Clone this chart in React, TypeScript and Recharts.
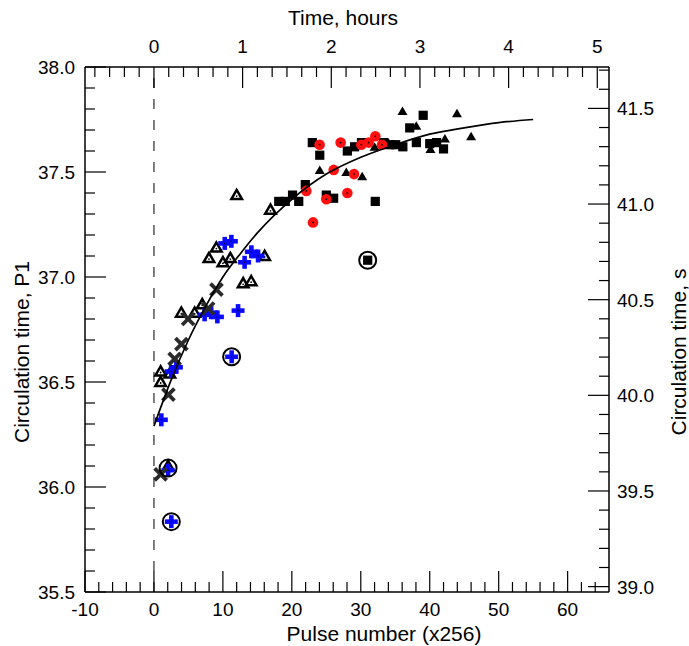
import React from "react"
import { ScatterChart, Scatter, XAxis, YAxis, ReferenceLine } from "recharts"

const FONT = "'Liberation Sans', Arial, Helvetica, sans-serif"

// axis conversions
const PULSES_PER_HOUR = 12.86
const SEC_PER_P1 = 1.0978

const PULSE_LABELS = [-10, 0, 10, 20, 30, 40, 50, 60]
const HOUR_LABELS = [0, 1, 2, 3, 4, 5]
const P1_LABELS = [35.5, 36.0, 36.5, 37.0, 37.5, 38.0]
const SEC_LABELS = [39.0, 39.5, 40.0, 40.5, 41.0, 41.5]

// open triangles
const openTriPulse = [0.97, 2.3, 0.97, 2.05, 3.97, 5.9, 7.0, 7.98, 9.05, 10.0, 11.08, 12.0, 12.94, 14.1, 16.05, 16.9]
const openTriP1 = [36.55, 36.54, 36.5, 36.1, 36.83, 36.83, 36.87, 37.09, 37.14, 37.07, 37.09, 37.39, 36.97, 36.98, 37.1, 37.32]

// blue crosses
const plusPulse = [1.07, 2.05, 2.52, 2.5, 3.25, 7.35, 8.3, 9.2, 10.27, 11.23, 12.2, 11.27, 13.15, 14.13, 15.1]
const plusP1 = [36.32, 36.08, 35.835, 36.55, 36.57, 36.82, 36.83, 36.81, 37.16, 37.17, 36.84, 36.62, 37.07, 37.12, 37.1]

// dark x marks
const xPulse = [0.97, 2.1, 3.0, 3.98, 4.95, 7.85, 9.07]
const xP1 = [36.06, 36.44, 36.61, 36.68, 36.8, 36.85, 36.94]

// red dots
const redPulse = [22.1, 23.07, 24.03, 25.0, 26.07, 27.08, 28.05, 29.02, 30.08, 31.14, 32.11, 33.07]
const redP1 = [37.41, 37.26, 37.63, 37.37, 37.51, 37.64, 37.4, 37.49, 37.63, 37.64, 37.67, 37.63]

// filled squares
const sqPulse = [18.1, 19.05, 20.1, 21.0, 21.95, 22.97, 24.05, 25.0, 26.06, 28.05, 29.1, 30.1, 31.0, 32.1, 33.3, 34.2, 35.07, 36.1, 37.1, 38.06, 39.05, 40.0, 41.0, 42.0]
const sqP1 = [37.36, 37.36, 37.39, 37.36, 37.44, 37.64, 37.58, 37.39, 37.375, 37.6, 37.62, 37.64, 37.08, 37.36, 37.64, 37.63, 37.63, 37.62, 37.71, 37.64, 37.77, 37.635, 37.64, 37.61]

// filled triangles
const triPulse = [24.05, 27.9, 30.2, 32.0, 34.0, 36.05, 38.05, 40.1, 42.2, 43.95, 46.0]
const triP1 = [37.51, 37.5, 37.48, 37.62, 37.64, 37.79, 37.72, 37.61, 37.66, 37.78, 37.67]

// circled outliers
const ringPulse = [2.05, 2.52, 11.27, 31.0]
const ringP1 = [36.09, 35.835, 36.62, 37.08]

// fitted curve, read at a few pulse numbers
const fitPulse = [0, 2.5, 5, 7.5, 10, 12.5, 15, 20, 25, 30, 35, 40, 45, 50, 55]
const fitP1 = [36.29, 36.51, 36.7, 36.86, 37.0, 37.11, 37.21, 37.37, 37.49, 37.57, 37.63, 37.68, 37.71, 37.735, 37.75]

const zip = (xs: number[], ys: number[]) => xs.map((x, i) => ({ x, y: ys[i] }))

// same fit expressed on the secondary (hours / seconds) axes, kept invisible so those axes get drawn
const fitOnSecondary = fitPulse.map((p, i) => ({ x: p / PULSES_PER_HOUR, y: fitP1[i] * SEC_PER_P1 }))

const steps = (from: number, to: number, step: number) => {
  const out: number[] = []
  for (let k = 0; from + k * step <= to + 1e-9; k++) out.push(+(from + k * step).toFixed(4))
  return out
}

const pulseTicks = steps(-10, 64, 2)
const hourTicks = steps(-4, 30, 1).map((k) => k / 6)
const p1Ticks = steps(35.5, 38.0, 0.1)
const secTicks = steps(39.0, 41.7, 0.1)

const near = (arr: number[], v: number) => arr.some((m) => Math.abs(m - v) < 1e-6)

const MAJOR = 21
const MINOR = 10
const TICK_FS = 19
const TITLE_FS = 21

function BottomTick({ x, y, payload }: any) {
  const major = near(PULSE_LABELS, payload.value)
  return (
    <g>
      <line x1={x} x2={x} y1={y} y2={y - (major ? MAJOR : MINOR)} stroke="#000" strokeWidth={1.2} />
      {major && (
        <text x={x} y={y + 24} textAnchor="middle" fontSize={TICK_FS} fontFamily={FONT} fill="#000">
          {payload.value}
        </text>
      )}
    </g>
  )
}

function TopTick({ x, y, payload }: any) {
  const major = near(HOUR_LABELS, payload.value)
  return (
    <g>
      <line x1={x} x2={x} y1={y} y2={y + (major ? MAJOR : MINOR)} stroke="#000" strokeWidth={1.2} />
      {major && (
        <text x={x} y={y - 14} textAnchor="middle" fontSize={TICK_FS} fontFamily={FONT} fill="#000">
          {Math.round(payload.value)}
        </text>
      )}
    </g>
  )
}

function LeftTick({ x, y, payload }: any) {
  const major = near(P1_LABELS, payload.value)
  return (
    <g>
      <line x1={x} x2={x + (major ? MAJOR : MINOR)} y1={y} y2={y} stroke="#000" strokeWidth={1.2} />
      {major && (
        <text x={x - 10} y={y + 7} textAnchor="end" fontSize={TICK_FS} fontFamily={FONT} fill="#000">
          {payload.value.toFixed(1)}
        </text>
      )}
    </g>
  )
}

function RightTick({ x, y, payload }: any) {
  const major = near(SEC_LABELS, payload.value)
  return (
    <g>
      <line x1={x} x2={x - (major ? MAJOR : MINOR)} y1={y} y2={y} stroke="#000" strokeWidth={1.2} />
      {major && (
        <text x={x + 8} y={y + 7} textAnchor="start" fontSize={TICK_FS} fontFamily={FONT} fill="#000">
          {payload.value.toFixed(1)}
        </text>
      )}
    </g>
  )
}

const titleStyle = { fontSize: TITLE_FS, fontFamily: FONT, fill: "#000" }

const OpenTri = ({ cx, cy }: any) => (
  <g>
    <polygon
      points={`${cx},${cy - 5.2} ${cx - 5.3},${cy + 4} ${cx + 5.3},${cy + 4}`}
      fill="#fff"
      stroke="#000"
      strokeWidth={2.5}
      strokeLinejoin="miter"
    />
    <circle cx={cx} cy={cy + 1} r={0.9} fill="#000" />
  </g>
)

const BluePlus = ({ cx, cy }: any) => (
  <g>
    <rect x={cx - 6.5} y={cy - 2.3} width={13} height={4.6} fill="#0a0aff" />
    <rect x={cx - 2.3} y={cy - 6.5} width={4.6} height={13} fill="#0a0aff" />
    <circle cx={cx} cy={cy} r={0.8} fill="#000" />
  </g>
)

const DarkX = ({ cx, cy }: any) => (
  <g stroke="#2b2b2b" strokeWidth={3.8}>
    <line x1={cx - 6} y1={cy - 6} x2={cx + 6} y2={cy + 6} />
    <line x1={cx - 6} y1={cy + 6} x2={cx + 6} y2={cy - 6} />
  </g>
)

const RedDot = ({ cx, cy }: any) => (
  <g>
    <circle cx={cx} cy={cy} r={5.3} fill="#ff1010" />
    <circle cx={cx} cy={cy} r={0.9} fill="#000" />
  </g>
)

const Square = ({ cx, cy }: any) => <rect x={cx - 4.6} y={cy - 4.6} width={9.2} height={9.2} fill="#000" />

const FilledTri = ({ cx, cy }: any) => (
  <polygon points={`${cx},${cy - 4.5} ${cx - 5},${cy + 4} ${cx + 5},${cy + 4}`} fill="#000" />
)

const Ring = ({ cx, cy }: any) => <circle cx={cx} cy={cy} r={8.5} fill="none" stroke="#000" strokeWidth={2} />

const Nothing = () => <g />

export default function App() {
  return (
    <div style={{ position: "absolute", left: 0, top: 0 }}>
      <ScatterChart width={689} height={646} margin={{ top: 0, right: 0, bottom: 0, left: 0 }}>
        <XAxis
          xAxisId="p"
          type="number"
          dataKey="x"
          domain={[-10, 66]}
          allowDataOverflow
          ticks={pulseTicks}
          interval={0}
          tickSize={0}
          tickMargin={0}
          tick={<BottomTick />}
          axisLine={{ stroke: "#000", strokeWidth: 1.5 }}
          height={54}
          label={{
            content: ({ viewBox }: any) => (
              <text x={384} y={viewBox.y + 49} textAnchor="middle" {...titleStyle}>
                Pulse number (x256)
              </text>
            ),
          }}
        />
        <XAxis
          xAxisId="h"
          orientation="top"
          type="number"
          dataKey="x"
          domain={[-10 / PULSES_PER_HOUR, 66 / PULSES_PER_HOUR]}
          allowDataOverflow
          ticks={hourTicks}
          interval={0}
          tickSize={0}
          tickMargin={0}
          tick={<TopTick />}
          axisLine={{ stroke: "#000", strokeWidth: 1.5 }}
          height={67}
          label={{
            content: () => (
              <text x={343} y={25} textAnchor="middle" {...titleStyle}>
                Time, hours
              </text>
            ),
          }}
        />
        <YAxis
          yAxisId="l"
          type="number"
          dataKey="y"
          domain={[35.5, 38]}
          allowDataOverflow
          ticks={p1Ticks}
          interval={0}
          tickSize={0}
          tickMargin={0}
          tick={<LeftTick />}
          axisLine={{ stroke: "#000", strokeWidth: 1.5 }}
          width={85}
          label={{
            content: () => (
              <text x={29} y={352} transform="rotate(-90 29 352)" textAnchor="middle" {...titleStyle}>
                Circulation time, P1
              </text>
            ),
          }}
        />
        <YAxis
          yAxisId="r"
          orientation="right"
          type="number"
          dataKey="y"
          domain={[35.5 * SEC_PER_P1, 38 * SEC_PER_P1]}
          allowDataOverflow
          ticks={secTicks}
          interval={0}
          tickSize={0}
          tickMargin={0}
          tick={<RightTick />}
          axisLine={{ stroke: "#000", strokeWidth: 1.5 }}
          width={80}
          label={{
            content: () => (
              <text x={686} y={352} transform="rotate(-90 686 352)" textAnchor="middle" {...titleStyle}>
                Circulation time, s
              </text>
            ),
          }}
        />

        <ReferenceLine x={0} xAxisId="p" yAxisId="l" stroke="#555" strokeWidth={1.5} strokeDasharray="10 11" />

        <Scatter xAxisId="h" yAxisId="r" data={fitOnSecondary} shape={Nothing} isAnimationActive={false} />

        <Scatter xAxisId="p" yAxisId="l" data={zip(openTriPulse, openTriP1)} shape={OpenTri} isAnimationActive={false} />
        <Scatter xAxisId="p" yAxisId="l" data={zip(plusPulse, plusP1)} shape={BluePlus} isAnimationActive={false} />
        <Scatter xAxisId="p" yAxisId="l" data={zip(xPulse, xP1)} shape={DarkX} isAnimationActive={false} />
        <Scatter xAxisId="p" yAxisId="l" data={zip(sqPulse, sqP1)} shape={Square} isAnimationActive={false} />
        <Scatter xAxisId="p" yAxisId="l" data={zip(triPulse, triP1)} shape={FilledTri} isAnimationActive={false} />
        <Scatter xAxisId="p" yAxisId="l" data={zip(redPulse, redP1)} shape={RedDot} isAnimationActive={false} />
        <Scatter
          xAxisId="p"
          yAxisId="l"
          data={zip(fitPulse, fitP1)}
          shape={Nothing}
          line={{ stroke: "#000", strokeWidth: 1.7 }}
          lineJointType="monotoneX"
          isAnimationActive={false}
        />
        <Scatter xAxisId="p" yAxisId="l" data={zip(ringPulse, ringP1)} shape={Ring} isAnimationActive={false} />
      </ScatterChart>
    </div>
  )
}
